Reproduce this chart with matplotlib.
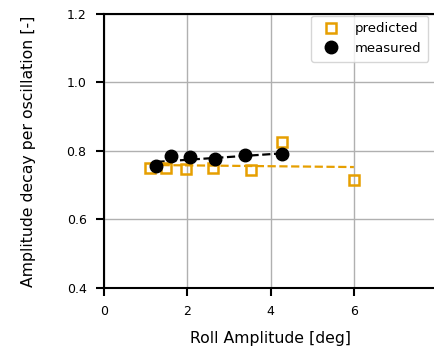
import matplotlib
matplotlib.use('Agg')
import matplotlib.pyplot as plt

# dados
pred_amp = [1.10, 1.48, 1.98, 2.62, 3.52, 4.28, 6.00]
pred_decay = [0.750, 0.751, 0.746, 0.749, 0.745, 0.826, 0.714]
pred_fit_amp = [1.10, 6.00]
pred_fit_decay = [0.759, 0.753]

meas_amp = [1.26, 1.61, 2.06, 2.66, 3.38, 4.28]
meas_decay = [0.756, 0.785, 0.782, 0.776, 0.789, 0.790]
meas_fit_amp = [1.26, 4.28]
meas_fit_decay = [0.768, 0.793]

xticks = [0, 2, 4, 6, 8]
yticks = [0.4, 0.6, 0.8, 1.0, 1.2]

orange = '#E69F00'

fig = plt.figure(figsize=(4.35, 3.47), dpi=100)
ax = fig.add_axes([0.239, 0.170, 0.766, 0.790])

ax.grid(True, color='#b0b0b0', linewidth=1.0, zorder=0)

ax.plot(pred_fit_amp, pred_fit_decay, '--', color=orange, linewidth=1.6, zorder=2)
ax.plot(meas_fit_amp, meas_fit_decay, '--', color='black', linewidth=1.6, zorder=2)
ax.plot(pred_amp, pred_decay, 's', markerfacecolor='none', markeredgecolor=orange,
        markeredgewidth=1.8, markersize=7.5, linestyle='none', label='predicted', zorder=3)
ax.plot(meas_amp, meas_decay, 'o', color='black', markersize=9, linestyle='none',
        label='measured', zorder=4)

ax.set_xlim(0, 8)
ax.set_ylim(0.4, 1.2)
ax.set_xticks(xticks)
ax.set_yticks(yticks)
ax.set_xticklabels([str(t) for t in xticks])
ax.set_yticklabels(['%.1f' % t for t in yticks])

for s in ax.spines.values():
    s.set_linewidth(1.5)
ax.tick_params(direction='out', length=5.5, width=1.5, labelsize=9, pad=7)

ax.set_xlabel('Roll Amplitude [deg]', fontsize=11.3, labelpad=9)
ax.set_ylabel('Amplitude decay per oscillation [-]', fontsize=11.3, labelpad=22)

ax.legend(loc='upper right', bbox_to_anchor=(0.993, 1.017), fontsize=9.5,
          framealpha=0.8, handletextpad=0.8, borderpad=0.5)

fig.savefig('out.png', dpi=100)
